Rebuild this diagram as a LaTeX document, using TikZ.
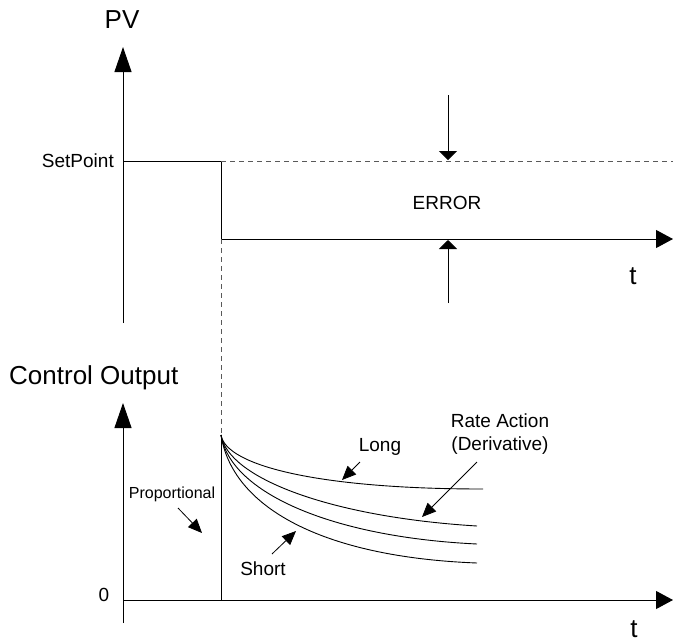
\documentclass[tikz,border=0pt]{standalone}
\usepackage{fontspec}
\setmainfont{Liberation Sans}
\usetikzlibrary{arrows.meta}
\begin{document}
\begin{tikzpicture}[x=1pt,y=-1pt,
  axis/.style={line width=1pt,-{Triangle[length=17pt,width=18pt]}},
  vaxis/.style={line width=1pt,-{Triangle[length=25pt,width=17pt]}},
  thin line/.style={line width=0.9pt},
  dashline/.style={line width=0.9pt,dash pattern=on 5pt off 4pt,gray!70!black},
  errarrow/.style={line width=0.9pt,-{Triangle[length=9pt,width=18pt]}},
  ptr/.style={line width=0.8pt,-{Triangle[length=14pt,width=12pt]}},
  big/.style={font=\fontsize{26}{30}\selectfont,inner sep=0pt},
  mid/.style={font=\fontsize{19}{23}\selectfont,inner sep=0pt},
  small/.style={font=\fontsize{16}{19}\selectfont,inner sep=0pt}]
\useasboundingbox (0,0) rectangle (673,641);
% ---------- top plot ----------
\coordinate (pvbot) at (123,323);
\coordinate (pvtop) at (123,47);
\coordinate (sp0) at (123,161);
\coordinate (sp1) at (221,161);
\coordinate (st1) at (221,239);
\coordinate (tend) at (673,239);
\coordinate (dend) at (673,161);
\coordinate (dvb) at (221,435);
\node[big] (pv) at (122,20) {PV};
\node[mid,anchor=east] (setpt) at (114,161) {SetPoint};
\draw[vaxis] (pvbot) -- (pvtop);
\draw[thin line] (sp0) -- (sp1) -- (st1);
\draw[axis] (st1) -- (tend);
\draw[dashline] (sp1) -- (dend);
\draw[dashline] (st1) -- (dvb);
\coordinate (e1s) at (448,95);
\coordinate (e1t) at (448,160);
\coordinate (e2s) at (448,303);
\coordinate (e2t) at (448,240);
\draw[errarrow] (e1s) -- (e1t);
\draw[errarrow] (e2s) -- (e2t);
\node[mid] (err) at (447,203) {ERROR};
\node[big] (t1) at (633,276) {t};
% ---------- bottom plot ----------
\node[big,anchor=west] (co) at (9,378) {Control Output};
\coordinate (cobot) at (123,623);
\coordinate (cotop) at (123,403);
\coordinate (h0) at (123,600);
\coordinate (hend) at (673,600);
\coordinate (p0) at (221,435);
\coordinate (pb) at (221,600);
\draw[vaxis] (cobot) -- (cotop);
\draw[axis] (h0) -- (hend);
\node[mid] (zero) at (104,595) {0};
\node[big,anchor=base] (t2) at (634,637) {t};
\draw[thin line] (p0) -- (pb);
\draw[thin line] (p0) .. controls (226,466) and (320,489) .. (483,489);
\draw[thin line] (p0) .. controls (228,478) and (330,517) .. (477,526);
\draw[thin line] (p0) .. controls (230,492) and (330,537) .. (477,544);
\draw[thin line] (p0) .. controls (232,506) and (320,557) .. (477,563);
% labels and pointers
\node[mid] (long) at (380,447) {Long};
\coordinate (lgs) at (360,462);
\coordinate (lgt) at (342,480);
\draw[ptr] (lgs) -- (lgt);
\node[mid,align=center] (rate) at (500,434) {Rate Action\\(Derivative)};
\coordinate (rs) at (477,462);
\coordinate (rt) at (422,517);
\draw[ptr] (rs) -- (rt);
\node[small] (prop) at (172,494) {Proportional};
\coordinate (ps) at (178,508);
\coordinate (pt) at (202,533);
\draw[ptr] (ps) -- (pt);
\node[mid] (short) at (263,569) {Short};
\coordinate (ss) at (272,554);
\coordinate (stt) at (296,531);
\draw[ptr] (ss) -- (stt);
\end{tikzpicture}
\end{document}
